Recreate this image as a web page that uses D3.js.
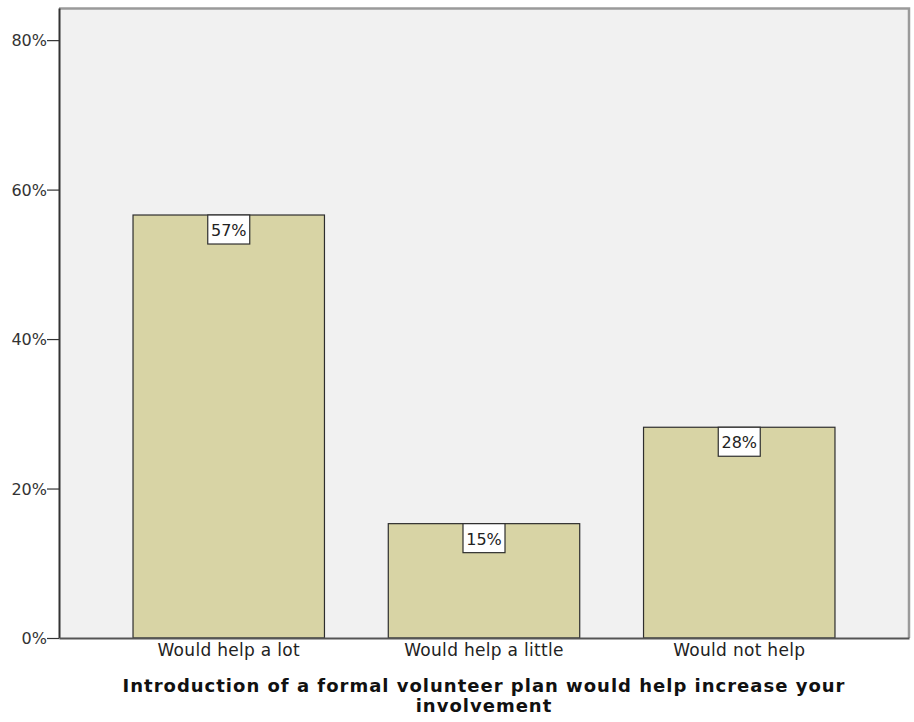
<!DOCTYPE html>
<html>
<head>
<meta charset="utf-8">
<script src="https://cdn.jsdelivr.net/npm/d3@7"></script>
<style>
  html, body { margin: 0; padding: 0; background: #ffffff; }
  svg { display: block; }
  text { font-family: "DejaVu Sans", Verdana, sans-serif; }
</style>
</head>
<body>
<svg id="chart" width="914" height="722"></svg>
<script>
// Survey responses (percent of respondents)
const categories = ["Would help a lot", "Would help a little", "Would not help"];
const percents = [56.6, 15.3, 28.2];
const yTicks = [0, 20, 40, 60, 80];
const axisTitleLines = ["Introduction of a formal volunteer plan would help increase your", "involvement"];

const svg = d3.select("#chart");
const plot = { left: 59, top: 8, right: 909, bottom: 638 };

const x = d3.scaleBand()
  .domain(categories)
  .range([plot.left, plot.right])
  .paddingInner(0.25)
  .paddingOuter(0.29);

const y = d3.scaleLinear()
  .domain([0, 84.3])
  .range([plot.bottom, plot.top]);

// plot background
svg.append("rect")
  .attr("x", plot.left).attr("y", plot.top)
  .attr("width", plot.right - plot.left).attr("height", plot.bottom - plot.top)
  .attr("fill", "#f1f1f1");

// top and right frame edges
svg.append("path")
  .attr("d", `M${plot.left},${plot.top + 0.5}H${plot.right}V${plot.bottom}`)
  .attr("fill", "none").attr("stroke", "#9a9a9a").attr("stroke-width", 2.5);

// bars
svg.append("g").selectAll("rect")
  .data(categories)
  .join("rect")
  .attr("x", d => x(d))
  .attr("y", (d, i) => y(percents[i]))
  .attr("width", x.bandwidth())
  .attr("height", (d, i) => y(0) - y(percents[i]))
  .attr("fill", "#d8d4a5")
  .attr("stroke", "#2e2e2e")
  .attr("stroke-width", 1.2);

// value labels
const fmt = v => d3.format(".0f")(v) + "%";
const labels = svg.append("g").selectAll("g")
  .data(categories)
  .join("g")
  .attr("transform", (d, i) => `translate(${x(d) + x.bandwidth() / 2},${y(percents[i])})`);
labels.append("rect")
  .attr("x", -21).attr("y", 0)
  .attr("width", 42).attr("height", 29)
  .attr("fill", "#ffffff")
  .attr("stroke", "#2e2e2e").attr("stroke-width", 1.2);
labels.append("text")
  .attr("y", 21)
  .attr("text-anchor", "middle")
  .attr("font-size", 16)
  .attr("fill", "#222")
  .text((d, i) => fmt(percents[i]));

// y axis
const yAxis = svg.append("g")
  .attr("transform", `translate(${plot.left},0)`)
  .call(d3.axisLeft(y).tickValues(yTicks).tickFormat(d => d + "%").tickSize(12).tickSizeOuter(0));
yAxis.select(".domain").attr("stroke", "#333").attr("stroke-width", 2);
yAxis.selectAll(".tick line").attr("stroke", "#333").attr("stroke-width", 1.2);
yAxis.selectAll(".tick text")
  .attr("x", -12)
  .attr("dy", "0.36em")
  .attr("font-size", 16)
  .attr("fill", "#333");

// x axis
const xAxis = svg.append("g")
  .attr("transform", `translate(0,${plot.bottom})`)
  .call(d3.axisBottom(x).tickSize(0).tickSizeOuter(0));
xAxis.select(".domain").attr("stroke", "#555").attr("stroke-width", 2);
xAxis.selectAll(".tick text")
  .attr("y", 18)
  .attr("dy", 0)
  .attr("font-size", 17)
  .attr("letter-spacing", 0.3)
  .attr("fill", "#222");

// axis title
svg.append("g").selectAll("text")
  .data(axisTitleLines)
  .join("text")
  .attr("x", (plot.left + plot.right) / 2)
  .attr("y", (d, i) => 692 + i * 20)
  .attr("text-anchor", "middle")
  .attr("font-size", 18)
  .attr("font-weight", "bold")
  .attr("letter-spacing", 1)
  .attr("fill", "#111")
  .text(d => d);
</script>
</body>
</html>
